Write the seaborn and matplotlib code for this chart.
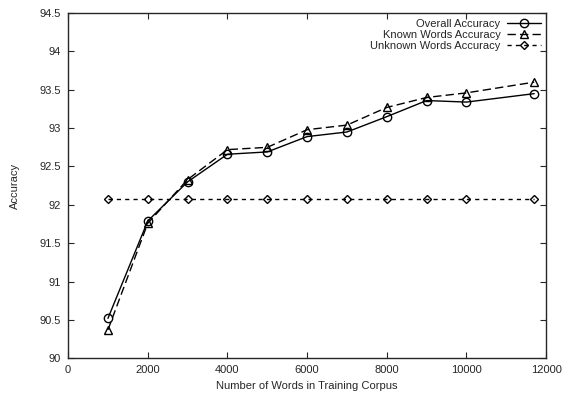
import matplotlib
matplotlib.use("Agg")
import matplotlib.pyplot as plt
import seaborn as sns
import pandas as pd

# values
words = [1000, 2000, 3000, 4000, 5000, 6000, 7000, 8000, 9000, 10000, 11700]
overall = [90.52, 91.79, 92.30, 92.66, 92.69, 92.89, 92.95, 93.15, 93.36, 93.34, 93.45]
known = [90.37, 91.76, 92.33, 92.72, 92.75, 92.98, 93.04, 93.27, 93.40, 93.46, 93.60]
unknown = [92.08] * len(words)

x_ticks = [0, 2000, 4000, 6000, 8000, 10000, 12000]
y_ticks = [90, 90.5, 91, 91.5, 92, 92.5, 93, 93.5, 94, 94.5]
y_labels = ["90", "90.5", "91", "91.5", "92", "92.5", "93", "93.5", "94", "94.5"]

df = pd.DataFrame({"words": words, "overall": overall, "known": known, "unknown": unknown})

sns.set_style("ticks")
plt.rcParams["font.family"] = ["Liberation Sans", "DejaVu Sans"]
plt.rcParams["font.size"] = 8

fig, ax = plt.subplots(figsize=(5.63, 3.98), dpi=100)
fig.subplots_adjust(left=0.121, right=0.97, top=0.967, bottom=0.1)

sns.lineplot(data=df, x="words", y="overall", ax=ax, color="black", lw=1,
             marker="o", markersize=6, markerfacecolor="none", markeredgecolor="black",
             markeredgewidth=1, label="Overall Accuracy")
sns.lineplot(data=df, x="words", y="known", ax=ax, color="black", lw=1,
             marker="^", markersize=6, markerfacecolor="none", markeredgecolor="black",
             markeredgewidth=1, label="Known Words Accuracy")
sns.lineplot(data=df, x="words", y="unknown", ax=ax, color="black", lw=1,
             marker="D", markersize=4, markerfacecolor="none", markeredgecolor="black",
             markeredgewidth=1, label="Unknown Words Accuracy")

ax.lines[1].set_dashes([6, 3])
ax.lines[2].set_dashes([3, 3])

ax.set_xlim(0, 12000)
ax.set_ylim(90, 94.5)
ax.set_xticks(x_ticks)
ax.set_yticks(y_ticks)
ax.set_yticklabels(y_labels)
ax.set_xlabel("Number of Words in Training Corpus", fontsize=8)
ax.set_ylabel("Accuracy", fontsize=8, labelpad=14)
ax.tick_params(direction="in", top=True, right=True, length=4, width=0.8, labelsize=8, pad=5)
for s in ax.spines.values():
    s.set_linewidth(1)

leg = ax.legend(loc="upper right", frameon=False, markerfirst=False, fontsize=8,
                handlelength=3.0, borderaxespad=0.2, labelspacing=0.1, handletextpad=0.6,
                borderpad=0.3)
for h in leg.get_lines():
    h.set_linewidth(1)

plt.savefig("out.png", dpi=100)
